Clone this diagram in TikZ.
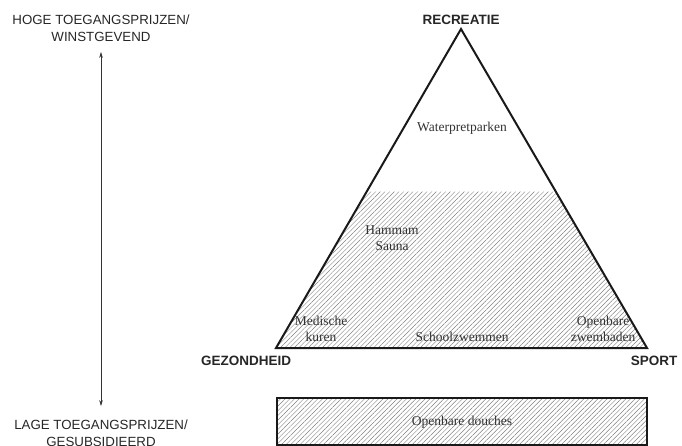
\documentclass[tikz,border=0pt]{standalone}
\usepackage{fontspec}
\setmainfont{Liberation Serif}
\setsansfont{Liberation Sans}
\usetikzlibrary{patterns.meta,calc,arrows.meta}
\begin{document}
\begin{tikzpicture}[x=1pt,y=-1pt,
					as/.style={font=\sffamily\fontsize{13.3}{17}\selectfont,align=center,text=black!85},
					hoek/.style={font=\sffamily\bfseries\fontsize{13.5}{16}\selectfont,text=black!85},
					vak/.style={font=\fontsize{13.5}{16}\selectfont,align=center,text=black!80},
					arcering/.style={pattern={Lines[angle=45,distance=3.3pt,line width=0.45pt]},pattern color=black!50}]
				\useasboundingbox (0,0) rectangle (682,446);
				% driehoek
				\coordinate (top) at (461,29);
				\coordinate (gez) at (276,348);
				\coordinate (spo) at (647,348);
				\fill[arcering] ($(top)!0.51!(gez)$) -- ($(top)!0.51!(spo)$) -- (spo) -- (gez) -- cycle;
				\draw[line width=2pt,line join=miter,black!90] (top) -- (spo) -- (gez) -- cycle;
				\node[hoek,above=1pt] (rec) at (top) {RECREATIE};
				\node[hoek] (gezl) at (246,361) {GEZONDHEID};
				\node[hoek] (spol) at (654,361) {SPORT};
				\node[vak] (wpp) at (462,128) {Waterpretparken};
				\node[vak] (ham) at (392,238) {Hammam\\Sauna};
				\node[vak] (med) at (321,329) {Medische\\kuren};
				\node[vak] (sch) at (462,337) {Schoolzwemmen};
				\node[vak] (opz) at (603,329) {Openbare\\zwembaden};
				% douches
				\draw[arcering] (277,398) rectangle (647,445);
				\draw[line width=1.6pt,black!90] (277,398) rectangle (647,445);
				\node[vak] (dou) at (462,422) {Openbare douches};
				% prijzen
				\node[as] (hoog) at (101,28) {HOGE TOEGANGSPRIJZEN/\\WINSTGEVEND};
				\node[as] (laag) at (101,433) {LAGE TOEGANGSPRIJZEN/\\GESUBSIDIEERD};
				\draw[{Stealth[length=6pt,width=3.5pt]}-{Stealth[length=6pt,width=3.5pt]},line width=0.5pt,black!80]
					(hoog.south) ++(0,7) coordinate (a1) (laag.north) ++(0,-10) coordinate (a2) (a1) -- (a2);
			\end{tikzpicture}
\end{document}
